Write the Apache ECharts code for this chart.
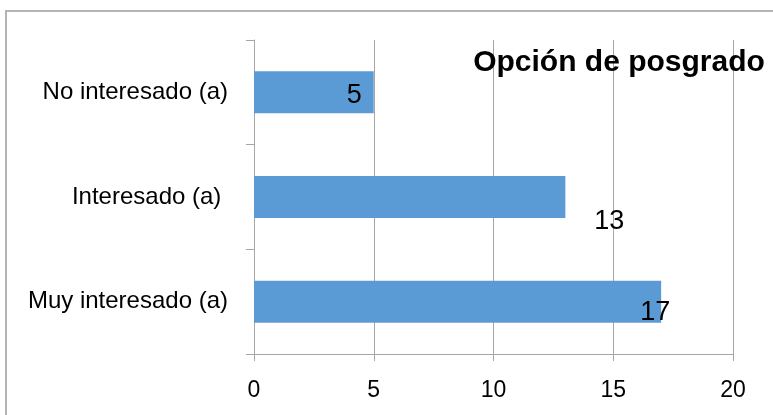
<!DOCTYPE html>
<html>
<head>
<meta charset="utf-8">
<script src="https://cdn.jsdelivr.net/npm/echarts@6/dist/echarts.min.js"></script>
<style>html,body{margin:0;padding:0;background:#fff}#c{width:773px;height:415px}</style>
</head>
<body>
<div id="c"></div>
<script>
var categories = ['Muy interesado (a)', 'Interesado (a) ', 'No interesado (a)'];
var values = [17, 13, 5];
var titleText = 'Opción de posgrado';
var labelOffsets = [[-21, 11], [29, 25], [-27, 3]];

var FONT = 'Liberation Sans';
var chart = echarts.init(document.getElementById('c'), null, {renderer: 'canvas'});
var seriesData = values.map(function (v, i) {
  return {value: v, label: {offset: labelOffsets[i]}};
});
chart.setOption({
  animation: false,
  backgroundColor: '#fff',
  title: {
    text: titleText,
    left: 614, top: 43, textAlign: 'center',
    textStyle: {fontFamily: FONT, fontWeight: 'bold', fontSize: 30, color: '#000'}
  },
  graphic: [{
    type: 'rect', silent: true, z: 100,
    shape: {x: 6, y: 11, width: 900, height: 600},
    style: {fill: 'none', stroke: '#b4b4b4', lineWidth: 2}
  }],
  grid: {left: 254, right: 40, top: 40, bottom: 61, containLabel: false},
  xAxis: {
    type: 'value', min: 0, max: 20, interval: 5,
    axisLine: {show: true, lineStyle: {color: '#a6a6a6', width: 1}},
    axisTick: {show: true, length: 7, lineStyle: {color: '#a6a6a6'}},
    splitLine: {show: true, lineStyle: {color: '#a6a6a6', width: 1}},
    axisLabel: {margin: 25, fontFamily: FONT, fontSize: 23, color: '#000'}
  },
  yAxis: {
    type: 'category', data: categories,
    axisLine: {show: true, lineStyle: {color: '#a6a6a6', width: 1}},
    axisTick: {show: true, length: 8, lineStyle: {color: '#a6a6a6'}},
    axisLabel: {margin: 26, fontFamily: FONT, fontSize: 24, color: '#000'}
  },
  series: [{
    type: 'bar', data: seriesData, barWidth: 42,
    itemStyle: {color: '#5b9bd5'},
    label: {show: true, position: 'right', distance: 0, fontFamily: FONT, fontSize: 27, color: '#000'},
    z: 3
  }]
});
</script>
</body>
</html>
